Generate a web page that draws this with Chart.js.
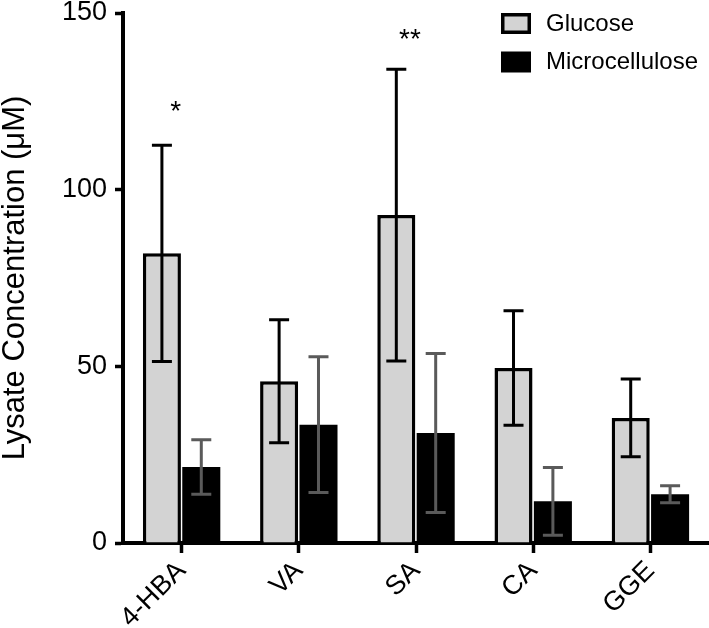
<!DOCTYPE html>
<html>
<head>
<meta charset="utf-8">
<script src="https://cdn.jsdelivr.net/npm/chart.js@4.4.0/dist/chart.umd.min.js"></script>
<style>
  html, body { margin: 0; padding: 0; background: #fff; }
  #wrap { width: 709px; height: 628px; }
</style>
</head>
<body>
<div id="wrap"><canvas id="myChart" width="709" height="628"></canvas></div>
<script>
// data
const categories = ['4-HBA', 'VA', 'SA', 'CA', 'GGE'];
const glucoseMean = [82.0, 45.8, 92.8, 49.5, 35.4];
const glucoseSD = [30.6, 17.4, 41.3, 16.2, 11.0];
const microMean = [21.5, 33.5, 31.1, 11.8, 13.8];
const microSD = [7.7, 19.2, 22.5, 9.6, 2.4];
const yTicks = [0, 50, 100, 150];
const stars = ['*', '', '**', '', ''];
const starLevel = [123.7, null, 144.1, null, null];

const FONT = 'Arial, "Liberation Sans", sans-serif';

// error bars (mean +/- SD) drawn through the y scale
const errorBars = {
    id: 'errorBars',
    afterDatasetsDraw(chart) {
        const ctx = chart.ctx;
        const y = chart.scales.y;
        chart.data.datasets.forEach((ds, i) => {
            const meta = chart.getDatasetMeta(i);
            ctx.save();
            ctx.strokeStyle = ds.errorColor;
            ctx.lineWidth = 3;
            meta.data.forEach((bar, j) => {
                const v = ds.data[j], sd = ds.sd[j];
                const top = y.getPixelForValue(v + sd);
                const bot = y.getPixelForValue(v - sd);
                const cx = bar.x;
                ctx.beginPath();
                ctx.moveTo(cx, top); ctx.lineTo(cx, bot);
                ctx.moveTo(cx - 10, top); ctx.lineTo(cx + 10, top);
                ctx.moveTo(cx - 10, bot); ctx.lineTo(cx + 10, bot);
                ctx.stroke();
            });
            ctx.restore();
        });
    }
};

// significance marks
const starMarks = {
    id: 'starMarks',
    afterDatasetsDraw(chart) {
        const ctx = chart.ctx;
        const {x, y} = chart.scales;
        ctx.save();
        ctx.fillStyle = '#000';
        ctx.font = '28px ' + FONT;
        ctx.textAlign = 'center';
        ctx.textBaseline = 'middle';
        stars.forEach((s, j) => {
            if (!s) return;
            ctx.fillText(s, x.getPixelForValue(j) - 6, y.getPixelForValue(starLevel[j]) + 6);
        });
        ctx.restore();
    }
};

// legend in the top right corner of the plot
const boxLegend = {
    id: 'boxLegend',
    afterDraw(chart) {
        const ctx = chart.ctx;
        ctx.save();
        ctx.font = '24px ' + FONT;
        ctx.textBaseline = 'middle';
        chart.data.datasets.forEach((ds, i) => {
            const top = 13 + i * 38.5;
            ctx.fillStyle = ds.backgroundColor;
            ctx.fillRect(501, top, 30, 21);
            if (ds.borderWidth) {
                ctx.strokeStyle = ds.borderColor;
                ctx.lineWidth = 3.5;
                ctx.strokeRect(502.75, top + 1.75, 26.5, 17.5);
            }
            ctx.fillStyle = '#000';
            ctx.fillText(ds.label, 546, top + 11);
        });
        ctx.restore();
    }
};

const ctx = document.getElementById('myChart');
const myChart = new Chart(ctx, {
    type: 'bar',
    data: {
        labels: categories,
        datasets: [{
            label: 'Glucose',
            data: glucoseMean,
            sd: glucoseSD,
            backgroundColor: '#d3d3d3',
            borderColor: '#000',
            borderWidth: 3.5,
            errorColor: '#000',
            categoryPercentage: 0.672,
            barPercentage: 0.966
        }, {
            label: 'Microcellulose',
            data: microMean,
            sd: microSD,
            backgroundColor: '#000',
            borderColor: '#000',
            borderWidth: 0,
            errorColor: '#5a5a5a',
            categoryPercentage: 0.672,
            barPercentage: 0.966
        }]
    },
    options: {
        responsive: false,
        animation: false,
        layout: { padding: { top: 13, right: 0, left: 0, bottom: 0 } },
        plugins: {
            legend: { display: false },
            tooltip: { enabled: false }
        },
        scales: {
            x: {
                afterFit(scale) { scale.height = 85; },
                border: { display: true, color: '#000', width: 4 },
                grid: {
                    display: true,
                    drawOnChartArea: false,
                    drawTicks: true,
                    offset: false,
                    tickLength: 10,
                    tickWidth: 3.5,
                    tickColor: '#000'
                },
                ticks: {
                    color: '#000',
                    font: { size: 27, family: FONT },
                    minRotation: 45,
                    maxRotation: 45,
                    padding: 2
                }
            },
            y: {
                min: 0,
                max: 150,
                afterFit(scale) {
                    scale.width = 123;
                    scale.paddingTop = 0;
                    scale.paddingBottom = 0;
                },
                afterBuildTicks(scale) { scale.ticks = yTicks.map(v => ({ value: v })); },
                border: { display: true, color: '#000', width: 4 },
                grid: {
                    display: true,
                    drawOnChartArea: false,
                    drawTicks: true,
                    tickLength: 8,
                    tickWidth: 3.5,
                    tickColor: '#000'
                },
                ticks: {
                    color: '#000',
                    font: { size: 27, family: FONT },
                    padding: 8
                },
                title: {
                    display: true,
                    text: 'Lysate Concentration (\u03BCM)',
                    color: '#000',
                    font: { size: 31, family: FONT, lineHeight: 1.0 },
                    padding: { top: 0, bottom: 0 }
                }
            }
        }
    },
    plugins: [errorBars, starMarks, boxLegend]
});
</script>
</body>
</html>
